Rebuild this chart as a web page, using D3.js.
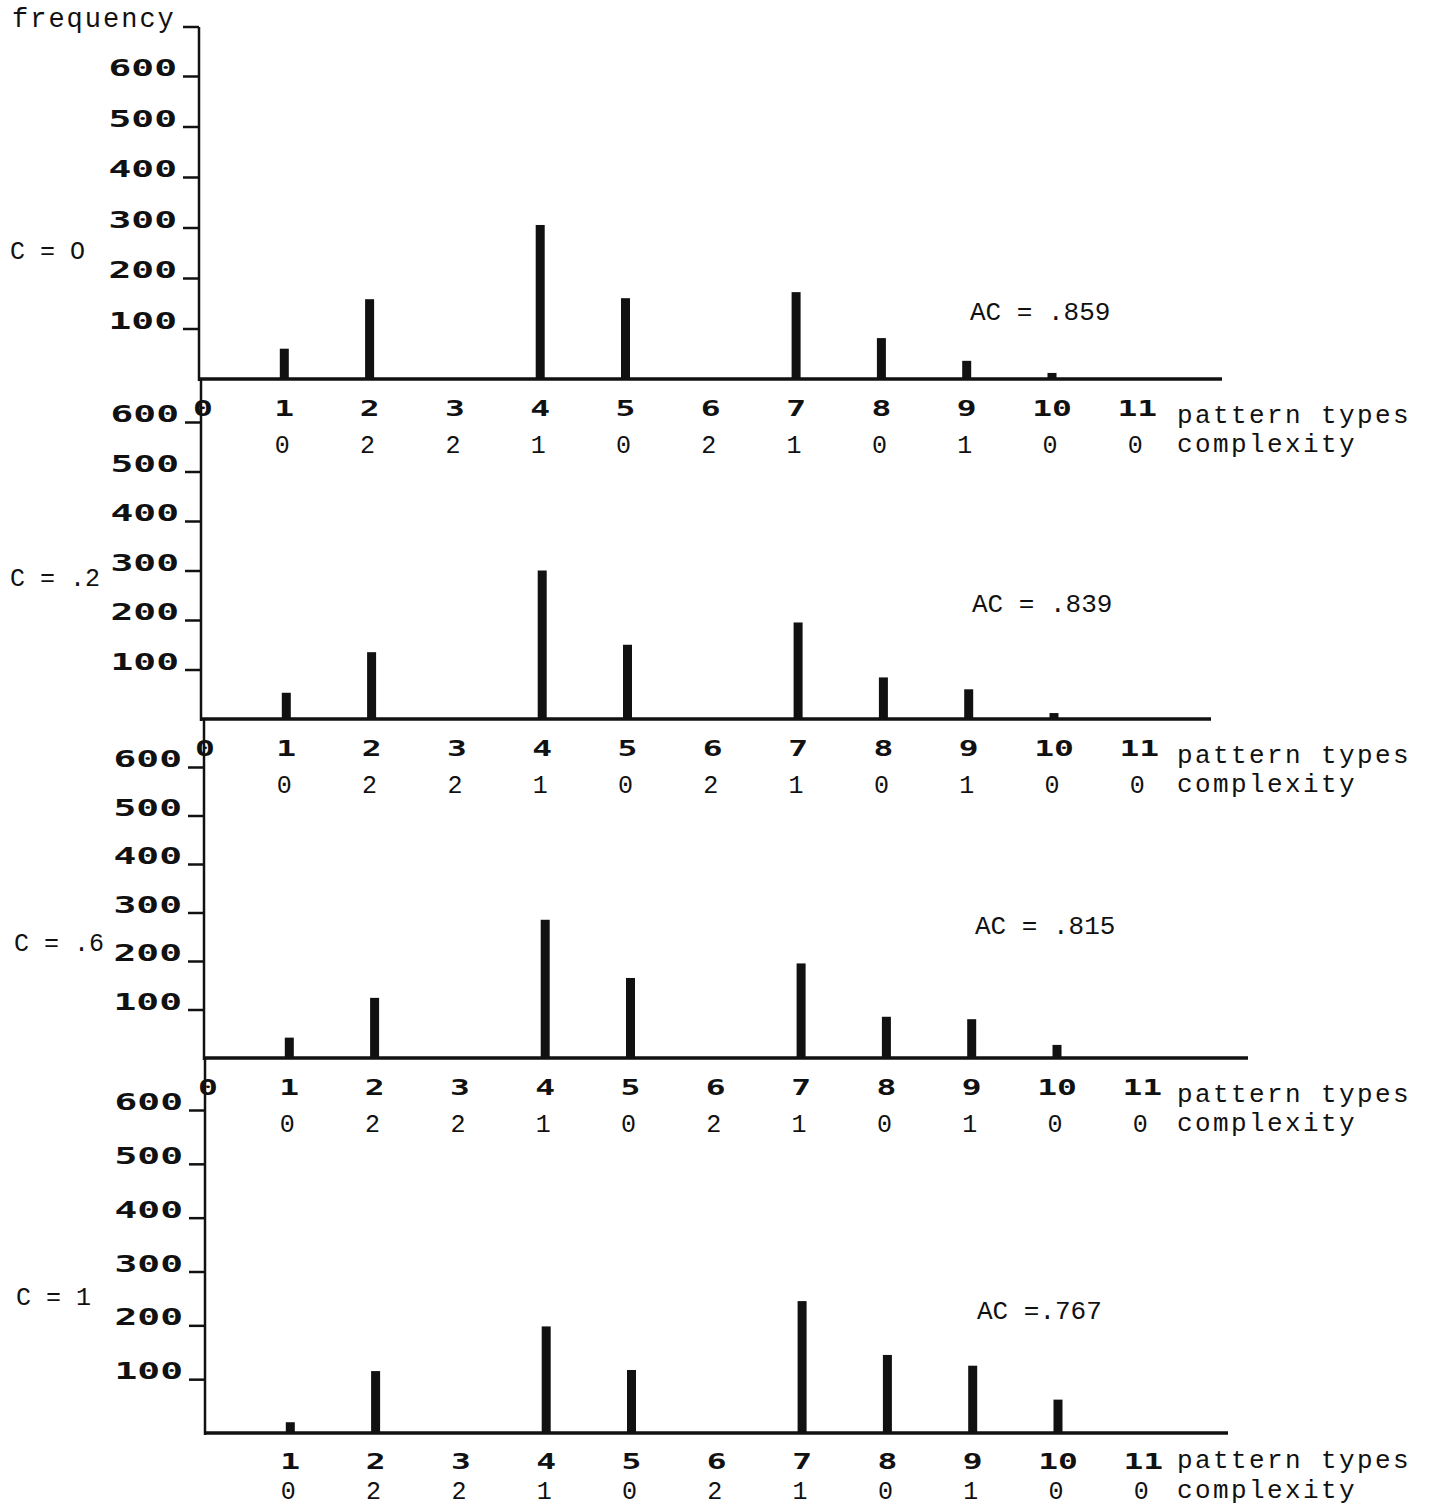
<!DOCTYPE html>
<html>
<head>
<meta charset="utf-8">
<script src="https://cdn.jsdelivr.net/npm/d3@7"></script>
<style>
body { margin: 0; background: #fff; }
.tw { font-family: "Liberation Mono", monospace; fill: #111; }
.blk { font-family: "DejaVu Sans Mono", monospace; font-weight: bold; fill: #111; }
</style>
</head>
<body>
<svg width="1431" height="1507"></svg>
<script>
// pattern types on the x axis and their complexity (types 1..11)
var patternTypes = [0, 1, 2, 3, 4, 5, 6, 7, 8, 9, 10, 11];
var complexity = [0, 2, 2, 1, 0, 2, 1, 0, 1, 0, 0];

// frequency per pattern type 1..11, one array per panel
var freqC0  = [60, 158, 0, 305, 160, 0, 172, 81, 36, 12, 0];
var freqC02 = [53, 135, 0, 300, 150, 0, 195, 84, 60, 12, 0];
var freqC06 = [42, 124, 0, 285, 165, 0, 195, 85, 80, 27, 0];
var freqC1  = [20, 115, 0, 198, 117, 0, 245, 145, 125, 62, 0];

var cLabels = ["C = O", "C = .2", "C = .6", "C = 1"];
var acLabels = ["AC = .859", "AC = .839", "AC = .815", "AC =.767"];
var yTicks = [100, 200, 300, 400, 500, 600];

var series = [freqC0, freqC02, freqC06, freqC1];

// where each panel sits on the page
var layout = [
  {base: 379, top: 76, axisTop: 27, x0: 199, xEnd: 1222, zero: true, cx: 10, cy: 259, acx: 970, acy: 320, tk: 37, pt: 44, cp: 74},
  {base: 719, top: 422, axisTop: 379, x0: 201, xEnd: 1211, zero: true, cx: 10, cy: 586, acx: 972, acy: 612, tk: 37, pt: 44, cp: 74},
  {base: 1058, top: 767, axisTop: 719, x0: 204, xEnd: 1248, zero: true, cx: 14, cy: 951, acx: 975, acy: 934, tk: 37, pt: 44, cp: 74},
  {base: 1433, top: 1110, axisTop: 1058, x0: 205, xEnd: 1228, zero: false, cx: 16, cy: 1305, acx: 977, acy: 1319, tk: 36, pt: 35, cp: 66}
];

var svg = d3.select("svg");
var unit = 85.3;

// "frequency" title with its tick at the top of the axis
svg.append("text").attr("class", "tw")
  .attr("x", 12).attr("y", 27)
  .style("font-size", "27px").style("letter-spacing", "2px")
  .text("frequency");
svg.append("line")
  .attr("x1", 183).attr("x2", 199).attr("y1", 27).attr("y2", 27)
  .attr("stroke", "#111").attr("stroke-width", 2.5);

series.forEach(function(vals, i) {
  var L = layout[i];
  var x = d3.scaleLinear().domain([0, 12]).range([L.x0, L.x0 + 12 * unit]);
  var y = d3.scaleLinear().domain([0, 600]).range([L.base, L.top]);
  var g = svg.append("g");

  // y axis ticks
  var yAxis = d3.axisLeft(y).tickValues(yTicks).tickSize(16).tickFormat("");
  var ya = g.append("g").attr("transform", "translate(" + L.x0 + ",0)").call(yAxis);
  ya.select(".domain").remove();
  ya.selectAll(".tick line").attr("stroke", "#111").attr("stroke-width", 2.5);

  g.append("line")
    .attr("x1", L.x0).attr("x2", L.x0)
    .attr("y1", L.axisTop).attr("y2", L.base + 2)
    .attr("stroke", "#111").attr("stroke-width", 2.5);

  g.selectAll(".ylab").data(yTicks).enter().append("g")
    .attr("transform", function(d) { return "translate(" + (L.x0 - 22) + "," + y(d) + ") scale(1.65,1)"; })
    .append("text").attr("class", "blk")
    .attr("text-anchor", "end")
    .style("font-size", "23px")
    .text(function(d) { return d; });

  // x axis baseline
  g.append("line")
    .attr("x1", L.x0).attr("x2", L.xEnd)
    .attr("y1", L.base).attr("y2", L.base)
    .attr("stroke", "#111").attr("stroke-width", 3.5);

  // bars
  g.selectAll(".bar").data(vals.map(function(v, k) { return {t: k + 1, v: v}; }).filter(function(d) { return d.v > 0; }))
    .enter().append("rect")
    .attr("x", function(d) { return x(d.t) - 4.5; })
    .attr("width", 9)
    .attr("y", function(d) { return y(d.v); })
    .attr("height", function(d) { return L.base - y(d.v); })
    .attr("fill", "#111");

  // pattern type labels
  var types = L.zero ? patternTypes : patternTypes.slice(1);
  g.selectAll(".xlab").data(types).enter().append("g")
    .attr("transform", function(d) { return "translate(" + (x(d) + (d === 0 ? 4 : 0)) + "," + (L.base + L.tk) + ") scale(1.5,1)"; })
    .append("text").attr("class", "blk")
    .attr("text-anchor", "middle")
    .style("font-size", "22px")
    .text(function(d) { return d; });

  // complexity row
  g.selectAll(".clab").data(complexity).enter().append("text")
    .attr("class", "tw")
    .attr("x", function(d, k) { return x(k + 1) - 2; })
    .attr("y", L.base + L.cp)
    .attr("text-anchor", "middle")
    .style("font-size", "25px")
    .text(function(d) { return d; });

  g.append("text").attr("class", "tw")
    .attr("x", 1177).attr("y", L.base + L.pt)
    .style("font-size", "26px").style("letter-spacing", "2.4px")
    .text("pattern types");
  g.append("text").attr("class", "tw")
    .attr("x", 1177).attr("y", L.base + L.cp - 1)
    .style("font-size", "26px").style("letter-spacing", "2.4px")
    .text("complexity");

  // panel labels
  g.append("text").attr("class", "tw")
    .attr("x", L.cx).attr("y", L.cy)
    .style("font-size", "25px")
    .text(cLabels[i]);
  g.append("text").attr("class", "tw")
    .attr("x", L.acx).attr("y", L.acy)
    .style("font-size", "26px")
    .text(acLabels[i]);
});
</script>
</body>
</html>
